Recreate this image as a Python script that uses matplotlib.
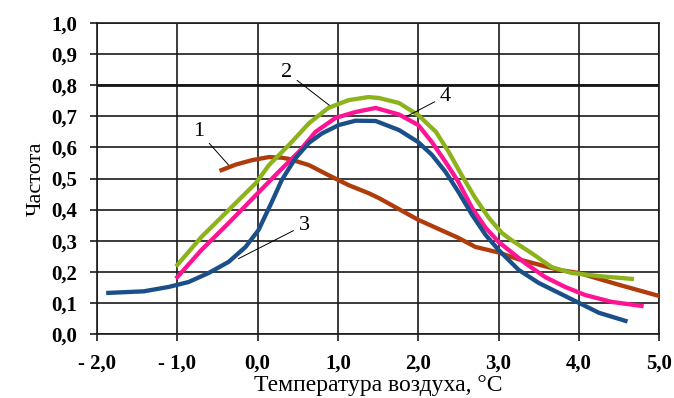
import matplotlib
matplotlib.use("Agg")
import matplotlib.pyplot as plt

# curve data (x = air temperature, y = frequency)
x1 = [-0.45, -0.27, -0.07, 0.14, 0.30, 0.39, 0.64, 0.88, 1.13, 1.38, 1.51, 2.0, 2.5, 2.71, 3.0, 3.25, 3.75, 4.0, 4.5, 5.0]
y1 = [0.527, 0.545, 0.559, 0.569, 0.567, 0.563, 0.543, 0.511, 0.479, 0.453, 0.437, 0.367, 0.309, 0.28, 0.262, 0.24, 0.206, 0.196, 0.158, 0.122]

x2 = [-1.0, -0.70, -0.36, -0.02, 0.14, 0.39, 0.64, 0.88, 1.13, 1.38, 1.51, 1.76, 2.0, 2.22, 2.38, 2.54, 2.71, 2.88, 3.04, 3.16, 3.41, 3.66, 3.91, 4.25, 4.66]
y2 = [0.222, 0.312, 0.399, 0.486, 0.543, 0.608, 0.678, 0.727, 0.752, 0.762, 0.759, 0.743, 0.704, 0.65, 0.585, 0.511, 0.437, 0.373, 0.325, 0.302, 0.26, 0.215, 0.196, 0.186, 0.177]

x3 = [-1.86, -1.42, -1.11, -0.86, -0.61, -0.36, -0.15, 0.01, 0.17, 0.30, 0.47, 0.64, 0.80, 1.01, 1.22, 1.47, 1.76, 2.0, 2.17, 2.34, 2.50, 2.67, 2.84, 3.0, 3.25, 3.5, 3.75, 4.0, 4.25, 4.58]
y3 = [0.132, 0.137, 0.151, 0.167, 0.196, 0.232, 0.28, 0.334, 0.421, 0.495, 0.565, 0.615, 0.645, 0.672, 0.686, 0.685, 0.656, 0.617, 0.576, 0.521, 0.457, 0.383, 0.318, 0.27, 0.206, 0.164, 0.132, 0.10, 0.068, 0.042]

x4 = [-1.0, -0.70, -0.36, -0.02, 0.26, 0.51, 0.72, 0.97, 1.22, 1.47, 1.76, 2.0, 2.17, 2.34, 2.50, 2.67, 2.84, 3.0, 3.33, 3.58, 3.83, 4.08, 4.41, 4.78]
y4 = [0.183, 0.27, 0.357, 0.447, 0.521, 0.585, 0.65, 0.695, 0.714, 0.727, 0.706, 0.672, 0.617, 0.553, 0.489, 0.405, 0.341, 0.296, 0.228, 0.183, 0.151, 0.125, 0.103, 0.09]

xticks = [-2, -1, 0, 1, 2, 3, 4, 5]
xlabels = ["- 2,0", "- 1,0", "0,0", "1,0", "2,0", "3,0", "4,0", "5,0"]
yticks = [0.0, 0.1, 0.2, 0.3, 0.4, 0.5, 0.6, 0.7, 0.8, 0.9, 1.0]
ylabels = ["0,0", "0,1", "0,2", "0,3", "0,4", "0,5", "0,6", "0,7", "0,8", "0,9", "1,0"]

fig = plt.figure(figsize=(6.74, 3.98), dpi=100)
ax = fig.add_axes([0.144, 0.161, 0.834, 0.781])

lw = 3.1
ax.plot(x1, y1, color="#b03c0c", lw=lw, zorder=3, solid_joinstyle="round")
ax.plot(x2, y2, color="#8db31c", lw=lw, zorder=3, solid_joinstyle="round")
ax.plot(x4, y4, color="#ff1493", lw=lw, zorder=4, solid_joinstyle="round")
ax.plot(x3, y3, color="#1b4f8a", lw=lw, zorder=5, solid_joinstyle="round")

ax.set_xlim(-2, 5)
ax.set_ylim(0, 1)
ax.set_xticks(xticks)
ax.set_xticklabels(xlabels)
ax.set_yticks(yticks)
ax.set_yticklabels(ylabels)
ax.grid(True, color="#1a1a1a", lw=1.2)
ax.axhline(0.8, color="black", lw=1.9, zorder=1)
for s in ax.spines.values():
    s.set_color("#1a1a1a")
    s.set_linewidth(1.2)
ax.tick_params(direction="out", length=5, width=1.2, color="#1a1a1a")
ax.tick_params(axis="y", pad=9)
ax.tick_params(axis="x", pad=9)
for t in ax.get_xticklabels() + ax.get_yticklabels():
    t.set_fontfamily("Liberation Serif")
    t.set_fontweight("bold")
    t.set_fontsize(15)

ax.set_xlabel("Температура воздуха, °С", fontfamily="Liberation Serif", fontsize=17, labelpad=1)
ax.set_ylabel("Частота", fontfamily="Liberation Serif", fontsize=16, labelpad=4)

# curve numbers with leader lines
tkw = dict(fontfamily="Liberation Serif", fontsize=16, ha="center", va="center")
lkw = dict(arrowstyle="-", color="black", lw=0.7)
ax.annotate("1", xy=(-0.34, 0.537), xytext=(-0.73, 0.65), arrowprops=lkw, **tkw)
ax.annotate("2", xy=(0.92, 0.73), xytext=(0.36, 0.842), arrowprops=lkw, **tkw)
ax.annotate("3", xy=(-0.27, 0.238), xytext=(0.58, 0.35), arrowprops=lkw, **tkw)
ax.annotate("4", xy=(1.82, 0.695), xytext=(2.34, 0.765), arrowprops=lkw, **tkw)

fig.savefig("out.png", dpi=100)
